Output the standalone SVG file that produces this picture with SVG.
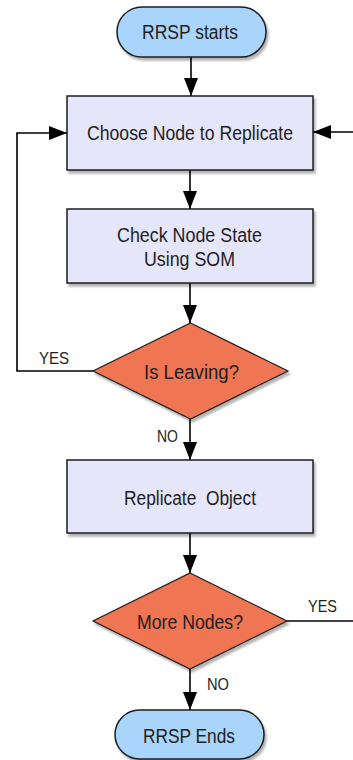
<svg xmlns="http://www.w3.org/2000/svg" width="353" height="760" viewBox="0 0 353 760">
  <defs>
    <marker id="arrow" viewBox="0 0 18 14" refX="18" refY="7" markerWidth="18" markerHeight="14" markerUnits="userSpaceOnUse" orient="auto">
      <path d="M0,0 L18,7 L0,14 Z" fill="#000"/>
    </marker>
    <filter id="shadow" x="-10%" y="-10%" width="130%" height="140%">
      <feGaussianBlur in="SourceAlpha" stdDeviation="1.2"/>
      <feOffset dx="1.5" dy="3" result="b"/>
      <feComponentTransfer><feFuncA type="linear" slope="0.3"/></feComponentTransfer>
      <feMerge><feMergeNode/><feMergeNode in="SourceGraphic"/></feMerge>
    </filter>
  </defs>
  <style>
    .term { fill: #a9d4fb; stroke: #1e1e1e; stroke-width: 1.5; filter: url(#shadow); }
    .proc { fill: #e6e6fb; stroke: #1e1e1e; stroke-width: 1.5; filter: url(#shadow); }
    .dec { fill: #ef7552; stroke: #1e1e1e; stroke-width: 1.2; filter: url(#shadow); }
    .lbl { font-family: "Liberation Sans", Arial, sans-serif; font-size: 20px; fill: #1e1e1e; text-anchor: middle; white-space: pre; }
    .small { font-family: "Liberation Sans", Arial, sans-serif; font-size: 17px; fill: #1e1e1e; text-anchor: middle; }
    .conn { fill: none; stroke: #000; stroke-width: 1.6; }
  </style>

  <g id="connectors">
    <path class="conn" d="M191,57 L191,96" marker-end="url(#arrow)"/>
    <path class="conn" d="M190,170 L190,209" marker-end="url(#arrow)"/>
    <path class="conn" d="M190,283 L190,323" marker-end="url(#arrow)"/>
    <path class="conn" d="M93,371 L17,371 L17,133 L67,133" marker-end="url(#arrow)"/>
    <path class="conn" d="M190,419 L190,460" marker-end="url(#arrow)"/>
    <path class="conn" d="M190,533 L190,573" marker-end="url(#arrow)"/>
    <path class="conn" d="M287,621 L353,621"/>
    <path class="conn" d="M353,132 L313,132" marker-end="url(#arrow)"/>
    <path class="conn" d="M190,669 L190,710" marker-end="url(#arrow)"/>
    <text class="small" x="54" y="364" textLength="30" lengthAdjust="spacingAndGlyphs">YES</text>
    <text class="small" x="167.5" y="442" textLength="21" lengthAdjust="spacingAndGlyphs">NO</text>
    <text class="small" x="322.5" y="612" textLength="29" lengthAdjust="spacingAndGlyphs">YES</text>
    <text class="small" x="218" y="690" textLength="22" lengthAdjust="spacingAndGlyphs">NO</text>
  </g>

  <g id="start">
    <rect class="term" x="117" y="7" width="149" height="50" rx="25" ry="25"/>
    <text class="lbl" x="190" y="39" textLength="96" lengthAdjust="spacingAndGlyphs">RRSP starts</text>
  </g>

  <g id="choose-node">
    <rect class="proc" x="67" y="96" width="246" height="74"/>
    <text class="lbl" x="190" y="140" textLength="206" lengthAdjust="spacingAndGlyphs">Choose Node to Replicate</text>
  </g>

  <g id="check-state">
    <rect class="proc" x="67" y="209" width="246" height="74"/>
    <text class="lbl" x="189.5" y="242" textLength="145" lengthAdjust="spacingAndGlyphs">Check Node State</text>
    <text class="lbl" x="189.5" y="266" textLength="91" lengthAdjust="spacingAndGlyphs">Using SOM</text>
  </g>

  <g id="is-leaving">
    <polygon class="dec" points="190.5,323 288,371 190.5,419 93,371"/>
    <text class="lbl" x="191.5" y="379" textLength="95" lengthAdjust="spacingAndGlyphs">Is Leaving?</text>
  </g>

  <g id="replicate-object">
    <rect class="proc" x="67" y="460" width="246" height="73"/>
    <text class="lbl" x="190" y="505" textLength="132" lengthAdjust="spacingAndGlyphs" xml:space="preserve">Replicate  Object</text>
  </g>

  <g id="more-nodes">
    <polygon class="dec" points="190,573 287,621 190,669 93,621"/>
    <text class="lbl" x="190" y="629" textLength="106" lengthAdjust="spacingAndGlyphs">More Nodes?</text>
  </g>

  <g id="end">
    <rect class="term" x="115" y="710" width="149" height="49" rx="24.5" ry="24.5"/>
    <text class="lbl" x="189" y="743" textLength="92" lengthAdjust="spacingAndGlyphs">RRSP Ends</text>
  </g>
</svg>
